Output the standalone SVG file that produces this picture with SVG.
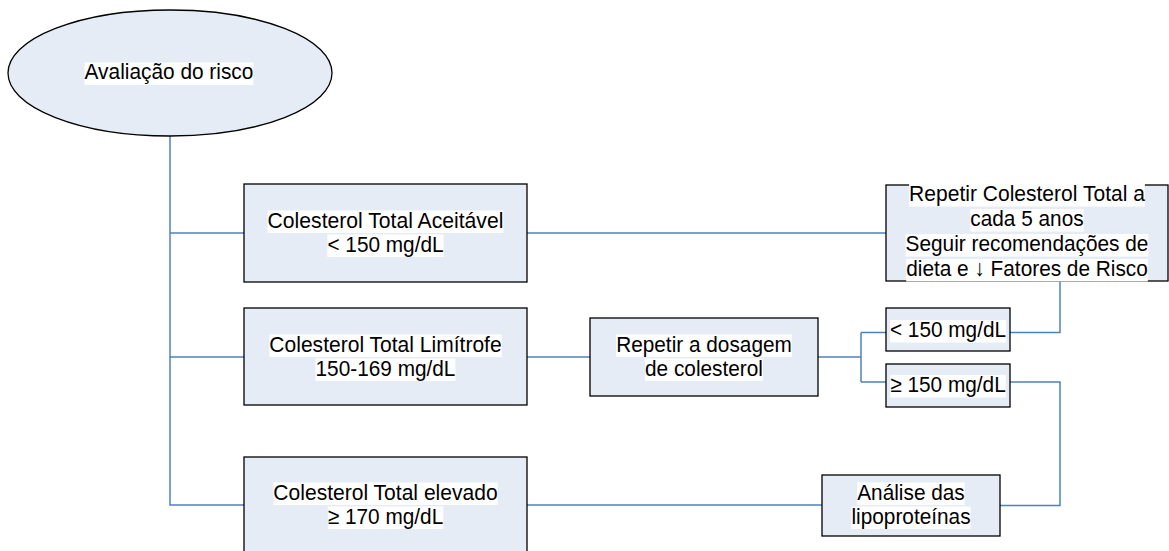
<svg xmlns="http://www.w3.org/2000/svg" width="1169" height="551" viewBox="0 0 1169 551">
<style>
.n{fill:#E6ECF6;stroke:#000;stroke-width:1.3}
.c{fill:none;stroke:#4F81BD;stroke-width:1.5}
.h{fill:#fff}
text{font-family:"Liberation Sans",Arial,sans-serif;font-size:22.6px;fill:#000;text-anchor:middle}
</style>
<rect width="1169" height="551" fill="#fff"/>
<g id="connectors">
<path class="c" d="M170 136 V505 H244 M170 233 H244 M170 357 H244"/>
<path class="c" d="M527 233 H886"/>
<path class="c" d="M527 357 H590"/>
<path class="c" d="M818 357 H861 M861 332.5 V382 M861 332.5 H886 M861 382 H886"/>
<path class="c" d="M1010 332.5 H1060 V281"/>
<path class="c" d="M1010 382 H1060 V505.5 H1000"/>
<path class="c" d="M527 505 H822"/>
</g>
<g id="avaliacao">
<ellipse class="n" cx="170" cy="73" rx="162" ry="63"/>
<rect class="h" x="84.6" y="62.5" width="168.8" height="22.5"/>
<text x="169" y="79" textLength="168.8" lengthAdjust="spacingAndGlyphs">Avaliação do risco</text>
</g>
<g id="aceitavel">
<rect class="n" x="244" y="184" width="283" height="98"/>
<rect class="h" x="267.6" y="210.5" width="235.8" height="22.5"/>
<rect class="h" x="327.4" y="234.5" width="116.2" height="22.5"/>
<text x="385.5" y="227.5" textLength="235.8" lengthAdjust="spacingAndGlyphs">Colesterol Total Aceitável</text>
<text x="385.5" y="251.5" textLength="116.2" lengthAdjust="spacingAndGlyphs">&lt; 150 mg/dL</text>
</g>
<g id="limitrofe">
<rect class="n" x="244" y="308" width="283" height="97"/>
<rect class="h" x="269.4" y="334.5" width="232.3" height="22.5"/>
<rect class="h" x="315.5" y="358.5" width="139.9" height="22.5"/>
<text x="385.5" y="351.5" textLength="232.3" lengthAdjust="spacingAndGlyphs">Colesterol Total Limítrofe</text>
<text x="385.5" y="375.5" textLength="139.9" lengthAdjust="spacingAndGlyphs">150-169 mg/dL</text>
</g>
<g id="elevado">
<rect class="n" x="244" y="457" width="283" height="98"/>
<rect class="h" x="273.4" y="482.5" width="224.3" height="22.5"/>
<rect class="h" x="327.8" y="506.5" width="115.5" height="22.5"/>
<text x="385.5" y="499.5" textLength="224.3" lengthAdjust="spacingAndGlyphs">Colesterol Total elevado</text>
<text x="385.5" y="523.5" textLength="115.5" lengthAdjust="spacingAndGlyphs">≥ 170 mg/dL</text>
</g>
<g id="repetir-total">
<rect class="n" x="886" y="185" width="282" height="96"/>
<rect class="h" x="909.1" y="184" width="235.8" height="22.5"/>
<rect class="h" x="970.4" y="209" width="113.3" height="22.5"/>
<rect class="h" x="905.6" y="234" width="242.8" height="22.5"/>
<rect class="h" x="906.2" y="259" width="241.6" height="22.5"/>
<text x="1027" y="201" textLength="235.8" lengthAdjust="spacingAndGlyphs">Repetir Colesterol Total a</text>
<text x="1027" y="226" textLength="113.3" lengthAdjust="spacingAndGlyphs">cada 5 anos</text>
<text x="1027" y="251" textLength="242.8" lengthAdjust="spacingAndGlyphs">Seguir recomendações de</text>
<text x="1027" y="276" textLength="241.6" lengthAdjust="spacingAndGlyphs">dieta e ↓ Fatores de Risco</text>
</g>
<g id="repetir-dosagem">
<rect class="n" x="590" y="318" width="228" height="78"/>
<rect class="h" x="616.2" y="334.5" width="175.7" height="22.5"/>
<rect class="h" x="645.1" y="358.5" width="117.9" height="22.5"/>
<text x="704" y="351.5" textLength="175.7" lengthAdjust="spacingAndGlyphs">Repetir a dosagem</text>
<text x="704" y="375.5" textLength="117.9" lengthAdjust="spacingAndGlyphs">de colesterol</text>
</g>
<g id="menor150">
<rect class="n" x="886" y="308" width="124" height="43"/>
<rect class="h" x="890" y="320" width="116.2" height="22.5"/>
<text x="948" y="336.5" textLength="116.2" lengthAdjust="spacingAndGlyphs">&lt; 150 mg/dL</text>
</g>
<g id="maior150">
<rect class="n" x="886" y="364" width="124" height="43"/>
<rect class="h" x="890.3" y="375" width="115.5" height="22.5"/>
<text x="948" y="391.5" textLength="115.5" lengthAdjust="spacingAndGlyphs">≥ 150 mg/dL</text>
</g>
<g id="analise">
<rect class="n" x="822" y="475" width="178" height="61"/>
<rect class="h" x="857.2" y="482.5" width="107.5" height="22.5"/>
<rect class="h" x="851.4" y="506.5" width="119.1" height="22.5"/>
<text x="911" y="499.5" textLength="107.5" lengthAdjust="spacingAndGlyphs">Análise das</text>
<text x="911" y="523.5" textLength="119.1" lengthAdjust="spacingAndGlyphs">lipoproteínas</text>
</g>
</svg>
